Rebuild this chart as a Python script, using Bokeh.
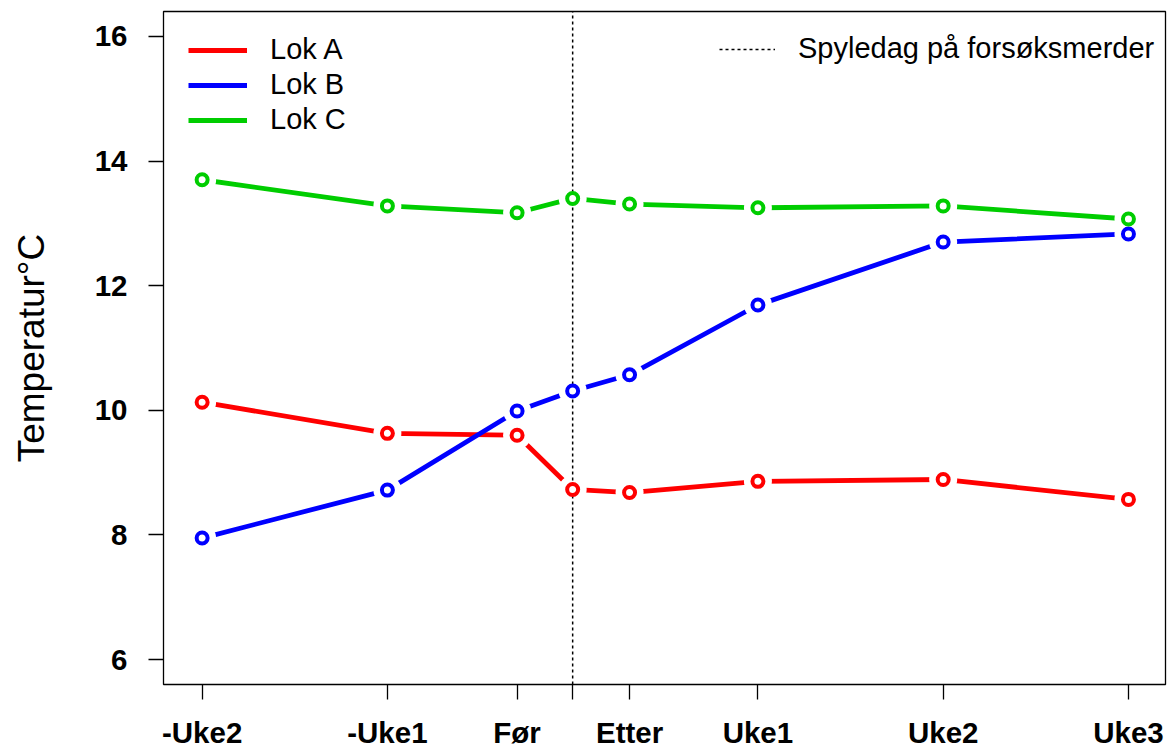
from bokeh.plotting import figure
from bokeh.models import Range1d, FixedTicker, Legend, LegendItem
from bokeh.embed import file_html
from bokeh.resources import INLINE

# Data
days = [-14, -7, -2.1, 0, 2.15, 7, 14, 21]
tick_labels = ["-Uke2", "-Uke1", "Før", "", "Etter", "Uke1", "Uke2", "Uke3"]
lok_a = [10.13, 9.63, 9.60, 8.73, 8.68, 8.86, 8.89, 8.57]
lok_b = [7.95, 8.72, 9.99, 10.31, 10.57, 11.69, 12.70, 12.83]
lok_c = [13.70, 13.28, 13.17, 13.40, 13.31, 13.25, 13.28, 13.07]
series_names = ["Lok A", "Lok B", "Lok C"]
series_colors = ["#FF0000", "#0000FF", "#00CD00"]
y_ticks = [6, 8, 10, 12, 14, 16]
spyledag = 0
spyledag_label = "Spyledag på forsøksmerder"

X_LO, X_HI = -15.46, 22.40
Y_LO, Y_HI = 5.6, 16.4
FONT = "Liberation Sans"

p = figure(width=1168, height=751, output_backend="svg", toolbar_location=None,
           x_range=Range1d(X_LO, X_HI), y_range=Range1d(Y_LO, Y_HI),
           min_border_left=163, min_border_top=11, min_border_right=3,
           min_border_bottom=67)
p.xgrid.visible = False
p.ygrid.visible = False
p.outline_line_color = "black"
p.outline_line_width = 1.3
p.background_fill_color = "white"
p.border_fill_color = "white"

for ax in (p.xaxis[0], p.yaxis[0]):
    ax.axis_line_color = None
    ax.major_tick_in = 0
    ax.major_tick_out = 15
    ax.major_tick_line_width = 1.3
    ax.major_tick_line_color = "black"
    ax.minor_tick_line_color = None
    ax.major_label_text_font = FONT
    ax.major_label_text_font_style = "bold"
    ax.major_label_text_font_size = "29.5px"
    ax.major_label_text_color = "black"

p.xaxis[0].ticker = FixedTicker(ticks=days)
p.xaxis[0].major_label_overrides = {d: lab for d, lab in zip(days, tick_labels)}
p.xaxis[0].major_label_standoff = 16

p.yaxis[0].ticker = FixedTicker(ticks=y_ticks)
p.yaxis[0].major_label_standoff = 21
p.yaxis[0].axis_label = "Temperatur°C"
p.yaxis[0].axis_label_text_font = FONT
p.yaxis[0].axis_label_text_font_style = "normal"
p.yaxis[0].axis_label_text_font_size = "37px"
p.yaxis[0].axis_label_text_color = "black"
p.yaxis[0].axis_label_standoff = 40

all_series = [lok_a, lok_b, lok_c]
line_renderers = []
for vals, col in zip(all_series, series_colors):
    r = p.line(days, vals, line_color=col, line_width=4.8)
    line_renderers.append(r)
for vals in all_series:
    p.scatter(days, vals, size=28, fill_color="white", line_color=None)

vline = p.segment(x0=[spyledag], y0=[Y_LO], x1=[spyledag], y1=[Y_HI],
                  line_color="black", line_width=1.5, line_dash="3 3")

for vals, col in zip(all_series, series_colors):
    p.scatter(days, vals, marker="circle", size=11, fill_color="white",
              line_color=col, line_width=4)

leg1 = Legend(items=[LegendItem(label=n, renderers=[r]) for n, r in zip(series_names, line_renderers)],
              location=(25, 548), orientation="vertical",
              glyph_width=59, glyph_height=30, label_height=30, spacing=2,
              padding=0, margin=0, label_standoff=23,
              label_text_font=FONT, label_text_font_size="29px", label_text_color="black",
              border_line_color=None, background_fill_alpha=0)
leg2 = Legend(items=[LegendItem(label=spyledag_label, renderers=[vline])],
              location=(556, 619),
              glyph_width=56, glyph_height=30, label_height=30, spacing=2,
              padding=0, margin=0, label_standoff=23,
              label_text_font=FONT, label_text_font_size="29px", label_text_color="black",
              border_line_color=None, background_fill_alpha=0)
p.add_layout(leg1, "center")
p.add_layout(leg2, "center")

open("out.html", "w").write(file_html(p, INLINE))
